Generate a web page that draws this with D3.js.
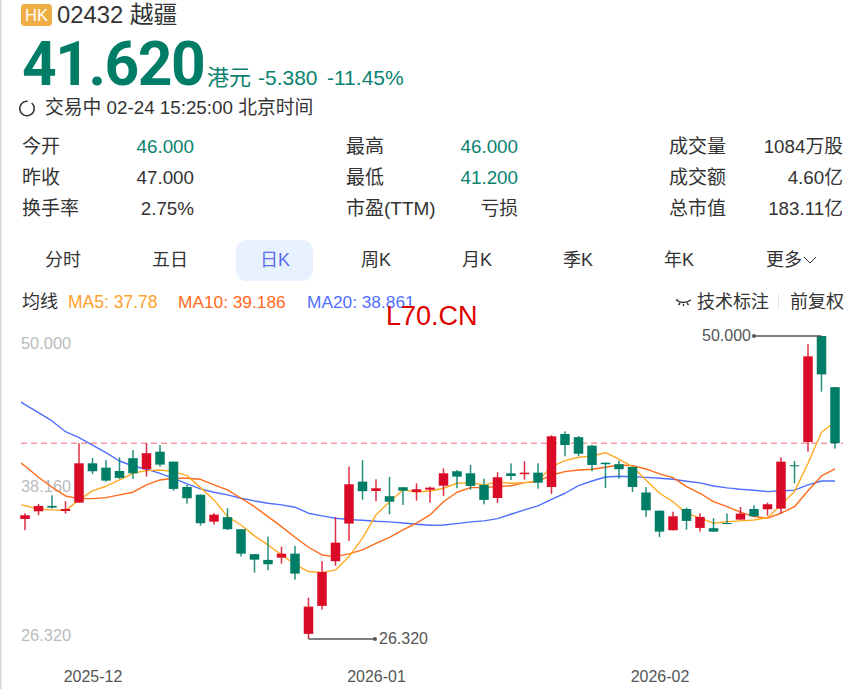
<!DOCTYPE html>
<html><head><meta charset="utf-8">
<script src="https://cdnjs.cloudflare.com/ajax/libs/d3/7.8.5/d3.min.js"></script>
<style>html,body{margin:0;padding:0;background:#fff;overflow:hidden}svg{display:block}
text{font-family:"Liberation Sans","Noto Sans CJK SC",sans-serif}</style></head><body>
<svg id="c" width="863" height="689"></svg>
<script>
const opens =[35.70,36.30,36.72,36.33,36.98,40.05,39.71,39.45,40.45,39.59,40.96,40.18,38.20,37.60,35.49,35.84,34.90,32.95,32.50,32.68,32.99,26.72,28.91,32.40,35.34,38.62,37.89,37.48,38.18,37.81,37.99,38.30,39.43,39.27,38.36,37.34,39.27,39.20,39.32,38.20,42.34,42.09,41.43,40.10,39.98,39.77,37.77,36.35,34.82,36.48,35.00,34.98,35.39,35.65,36.48,36.46,36.51,39.90,41.72,50.00,46.00];
const closes=[35.99,36.72,36.59,36.48,40.05,39.43,38.70,38.91,39.27,40.84,39.95,38.05,37.32,35.37,36.04,34.90,32.99,32.52,32.16,32.99,31.43,28.85,31.56,33.85,38.41,37.87,38.10,37.05,37.91,38.02,38.15,39.27,39.01,38.28,37.19,38.96,39.06,39.32,38.54,42.16,41.48,40.80,39.92,39.98,39.59,38.20,36.38,34.71,35.91,35.55,35.86,34.71,35.31,36.12,35.91,36.85,40.18,39.82,48.41,47.00,41.62];
const highs =[36.15,36.88,37.55,37.09,41.62,40.47,40.31,40.52,41.09,41.62,41.48,40.18,38.36,37.60,36.15,36.54,34.90,32.95,34.32,33.54,33.59,29.55,32.40,35.84,39.79,40.29,38.80,38.98,38.18,38.49,38.23,39.66,39.53,39.92,38.85,39.35,40.05,40.21,40.05,42.24,42.55,42.19,41.48,40.10,40.26,39.77,38.19,36.35,36.27,36.59,36.15,35.76,36.12,36.64,36.77,36.98,40.52,40.23,49.37,50.00,46.00];
const lows  =[34.82,35.99,36.51,36.12,36.98,39.22,38.62,38.83,38.83,39.01,39.79,37.91,36.90,35.18,35.26,34.84,32.76,31.51,31.70,32.21,30.96,26.32,28.62,32.05,33.98,37.21,37.09,36.07,36.80,37.13,36.98,37.50,38.10,37.99,36.85,36.95,38.75,38.77,38.07,37.66,40.60,40.62,39.43,38.12,38.85,37.81,35.87,34.27,34.82,34.87,34.71,34.71,35.29,35.65,35.88,35.96,36.12,38.49,40.96,45.65,41.20];
// moving averages; the first entry belongs to the session just left of the visible window
const ma5 =[36.95,36.74,36.48,36.41,36.35,37.19,37.89,38.26,38.75,39.27,39.48,39.53,39.40,39.09,38.15,37.19,35.88,35.23,34.38,33.67,32.89,32.16,31.59,31.51,31.72,32.76,34.20,36.02,37.05,37.97,37.81,37.89,38.10,38.49,38.54,38.36,38.59,38.49,38.54,38.67,39.79,40.26,40.52,40.62,40.88,40.37,39.79,38.75,37.71,37.05,36.15,35.76,35.37,35.49,35.55,35.62,35.80,36.80,37.84,40.05,42.48,43.30];
const ma10=[40.62,39.84,38.96,38.18,37.50,37.29,37.29,37.37,37.58,37.79,38.36,38.75,38.88,38.88,38.80,38.36,37.97,37.32,36.66,35.88,35.10,34.27,33.49,32.89,32.76,32.97,33.28,33.80,34.27,34.84,35.37,36.02,37.05,37.79,38.15,38.15,38.23,38.30,38.54,38.62,39.14,39.40,39.53,39.59,39.74,39.92,39.87,39.61,39.22,38.93,38.23,37.71,37.05,36.66,36.23,35.88,35.76,36.15,36.66,37.91,39.06,39.61];
const ma20=[45.31,44.63,44.01,43.36,42.52,42.05,41.48,40.88,40.23,39.84,39.59,39.27,38.88,38.44,38.05,37.79,37.58,37.32,37.11,36.93,36.80,36.62,36.15,35.94,35.76,35.65,35.60,35.52,35.47,35.39,35.29,35.21,35.23,35.34,35.47,35.55,35.73,36.07,36.41,36.72,37.24,37.71,38.30,38.67,38.98,39.04,39.01,38.95,38.88,38.80,38.65,38.52,38.28,38.13,38.02,37.95,37.84,37.91,37.95,38.36,38.67,38.67];
const yTicks=[50.000,38.160,26.320];
const monthTicks=[5,26,47];
const monthLabels=["2025-12","2026-01","2026-02"];
const lastPrice=41.62, maxPrice=50.000, minPrice=26.320;
const periods=["分时","五日","日K","周K","月K","季K","年K","更多"];
const quote=[["今开","46.000","昨收","47.000","换手率","2.75%"],["最高","46.000","最低","41.200","市盈(TTM)","亏损"],["成交量","1084万股","成交额","4.60亿","总市值","183.11亿"]];

const UP="#D90B27", DOWN="#007D66", INK="#333", GREEN="#0A8270";
const svg=d3.select("#c");
const txt=(x,y,s,size,fill,anchor="start",extra={})=>{const t=svg.append("text").attr("x",x).attr("y",y).attr("font-size",size).attr("fill",fill).attr("text-anchor",anchor).text(s);for(const k in extra)t.attr(k,extra[k]);return t;};

svg.append("rect").attr("width",863).attr("height",689).attr("fill","#fff");
svg.append("rect").attr("width",1.5).attr("height",689).attr("fill","#D6D8DE");

// header
svg.append("rect").attr("x",21).attr("y",4).attr("width",31).attr("height",22).attr("rx",3.5).attr("fill","#EFAE45");
txt(36.5,21,"HK",16.5,"#fff","middle");
txt(57,23,"02432 越疆",23.8,INK);
txt(22,85,"41.620",60.5,"#007D66","start",{"font-weight":700,"style":'font-family:Roboto,sans-serif;letter-spacing:-1.5px'});
txt(207,85,"港元",22,GREEN);
txt(258,85,"-5.380",21,GREEN);
txt(327,85,"-11.45%",21,GREEN);
svg.append("path").attr("d",d3.arc().innerRadius(6.5).outerRadius(8).startAngle(0.7).endAngle(2*Math.PI+0.1)()).attr("transform","translate(27,108.5)").attr("fill",INK);
txt(45,114,"交易中 02-24 15:25:00 北京时间",18.8,INK);

// quote table
const labX=[22,346,669], valX=[194,518,843], rowY=[153,184,215];
quote.forEach((col,c)=>{
  for(let r=0;r<3;r++){
    txt(labX[c],rowY[r],col[r*2],19,INK);
    const green=(c<2&&r===0)||(c===1&&r===1);
    txt(valX[c],rowY[r],col[r*2+1],18.8,green?GREEN:INK,"end");
  }
});

// period tabs
svg.append("rect").attr("x",236).attr("y",240).attr("width",77).attr("height",41).attr("rx",11).attr("fill","#E8F1FE");
const tabX=[63,170,275,376,477,578,679,784];
periods.forEach((p,i)=>txt(tabX[i],266,p,18,i===2?"#5C6FE8":INK,"middle"));
svg.append("path").attr("d","M804 257l6 6 6-6").attr("fill","none").attr("stroke",INK).attr("stroke-width",1);

// legend
txt(22,308,"均线",18,INK);
txt(68,308,"MA5: 37.78",17.5,"#FF9F2E");
txt(178,308,"MA10: 39.186",17.3,"#FF6A22");
txt(307,308,"MA20: 38.861",17.3,"#4F6FFF");
txt(386,324.5,"L70.CN",27,"#E00000");
svg.append("path").attr("d","M676 300q7 5 15 0M678 300l-1.500 0M680 303l-1.500 2M683.500 304v2M687 303l1.500 2").attr("fill","none").attr("stroke",INK).attr("stroke-width",1.4);
txt(697,308,"技术标注",18,INK);
svg.append("rect").attr("x",778).attr("y",294).attr("width",1).attr("height",16).attr("fill","#E4E4E4");
txt(790,308,"前复权",18,INK);

// scales
const x=d3.scaleLinear().domain([0,60]).range([25,835]);
const y=d3.scaleLinear().domain([minPrice,maxPrice]).range([639,336]);

// axis labels
yTicks.forEach((v,i)=>txt(21,[349,492,641][i],v.toFixed(3),16.4,"#BBBBBB"));
const ax=svg.append("g").attr("transform","translate(0,662)").call(d3.axisBottom(x).tickValues(monthTicks).tickSize(0).tickPadding(9).tickFormat((d,i)=>monthLabels[i]));
ax.select(".domain").remove();
ax.selectAll("text").attr("font-size",16).attr("fill","#555").attr("font-family",'"Liberation Sans",sans-serif');

// last price
svg.append("line").attr("x1",21).attr("x2",843).attr("y1",y(lastPrice)).attr("y2",y(lastPrice)).attr("stroke","#F59AA0").attr("stroke-width",1.4).attr("stroke-dasharray","6 4");

// MAs
svg.append("clipPath").attr("id","cl").append("rect").attr("x",21).attr("y",320).attr("width",820).attr("height",330);
const line=d3.line().x((d,i)=>x(i-1)).y(d=>y(d));
const lines=svg.append("g").attr("clip-path","url(#cl)");
[[ma20,"#4F6FFF"],[ma10,"#FF6A1A"],[ma5,"#FFAA22"]].forEach(([d,c])=>lines.append("path").attr("d",line(d)).attr("fill","none").attr("stroke",c).attr("stroke-width",1.4).attr("stroke-linejoin","round"));

// candles
const idx=d3.range(opens.length);
const g=svg.append("g").selectAll("g").data(idx).join("g").attr("fill",i=>closes[i]>=opens[i]?UP:DOWN);
g.append("rect").attr("x",i=>x(i)-0.75).attr("width",1.5).attr("y",i=>y(highs[i])).attr("height",i=>y(lows[i])-y(highs[i])).attr("opacity",.85);
g.append("rect").attr("x",i=>x(i)-4.75).attr("width",9.5).attr("y",i=>y(Math.max(opens[i],closes[i]))).attr("height",i=>Math.max(1,Math.abs(y(opens[i])-y(closes[i]))));

// high and low markers
const hi=d3.range(opens.length).find(i=>highs[i]===maxPrice), lo=lows.indexOf(minPrice);
const mark="#55565C";
svg.append("line").attr("x1",754).attr("x2",x(hi)).attr("y1",y(maxPrice)).attr("y2",y(maxPrice)).attr("stroke",mark).attr("stroke-width",1.3);
svg.append("circle").attr("cx",754).attr("cy",y(maxPrice)).attr("r",2).attr("fill",mark);
txt(751,341,maxPrice.toFixed(3),16,"#555","end");
svg.append("line").attr("x1",x(lo)).attr("x2",375).attr("y1",y(minPrice)).attr("y2",y(minPrice)).attr("stroke",mark).attr("stroke-width",1.3);
svg.append("circle").attr("cx",375).attr("cy",y(minPrice)).attr("r",2).attr("fill",mark);
txt(379,644,minPrice.toFixed(3),16,"#555");
</script></body></html>
